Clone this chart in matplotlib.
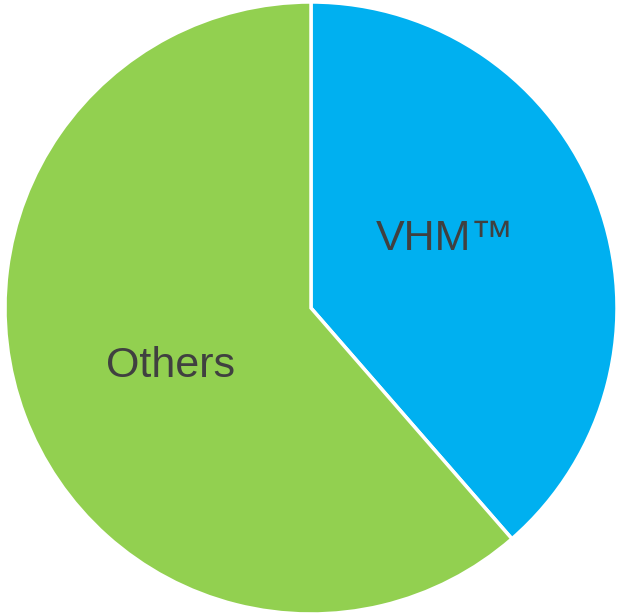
import matplotlib
matplotlib.use("Agg")
import matplotlib.pyplot as plt

# доли сегментов
labels = ["VHM\u2122", "Others"]
shares = [38.6, 61.4]
colors = ["#00B0F0", "#92D050"]

# положения подписей внутри сегментов (в долях радиуса)
label_pos = [(0.438, 0.224), (-0.459, -0.188)]

fig = plt.figure(figsize=(6.2, 6.14), dpi=100)
ax = fig.add_axes([0, 0, 1, 1])

wedges, texts = ax.pie(shares, labels=labels, colors=colors, startangle=90,
                       counterclock=False, labeldistance=0.5,
                       wedgeprops=dict(edgecolor="white", linewidth=2.5),
                       textprops=dict(fontsize=31, color="#404040",
                                      family=["Liberation Sans", "DejaVu Sans"]))
for t, (x, y) in zip(texts, label_pos):
    t.set_position((x, y))
    t.set_ha("center")
    t.set_va("center")

# центр (311, 308) px, радиус 306 px
r = 306.0
ax.set_xlim(-311 / r, (620 - 311) / r)
ax.set_ylim(-(614 - 308) / r, 308 / r)
ax.set_aspect("auto")
ax.axis("off")

fig.savefig("out.png", dpi=100)
